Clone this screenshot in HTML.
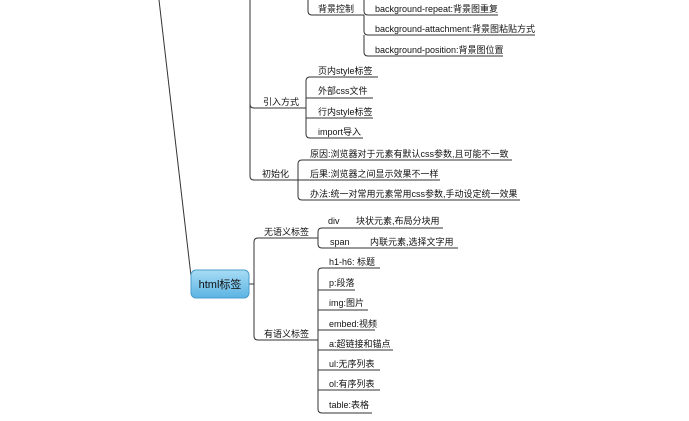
<!DOCTYPE html>
<html><head><meta charset="utf-8"><style>
html,body{margin:0;padding:0;background:#fff;}
svg{display:block;}
text{font-family:"Liberation Sans","Noto Sans CJK SC",sans-serif;font-size:9px;fill:#111;}
</style></head><body>
<svg width="689" height="421" viewBox="0 0 689 421" xmlns="http://www.w3.org/2000/svg">
<defs><linearGradient id="g" x1="0" y1="0" x2="0" y2="1"><stop offset="0" stop-color="#a8dcf5"/><stop offset="1" stop-color="#5bb4e3"/></linearGradient></defs>
<g stroke="#333" stroke-width="1" fill="none">
<line x1="159" y1="0" x2="191" y2="276"/>
<!-- top trunk -->
<path d="M250 0 V104 q0 4 4 4 H306"/>
<path d="M250 104 V176 q0 4 4 4 H298"/>
<!-- 背景控制 -->
<path d="M308 0 V11 q0 4 4 4 H364"/>
<path d="M364 0 V11 q0 4 4 4 H498"/>
<path d="M364 15 V31 q0 4 4 4 H535"/>
<path d="M364 35 V52 q0 4 4 4 H503"/>
<!-- 引入方式 -->
<path d="M306 108 V81 q0 -4 4 -4 H378"/>
<path d="M306 98 H373"/>
<path d="M306 108 V118 H373"/>
<path d="M306 118 V134 q0 4 4 4 H363"/>
<!-- 初始化 -->
<path d="M298 180 V164 q0 -4 4 -4 H512"/>
<path d="M298 180 H440"/>
<path d="M298 180 V196 q0 4 4 4 H520"/>
<!-- bottom -->
<path d="M249 284 H254"/>
<path d="M254 284 V242 q0 -4 4 -4 H318"/>
<path d="M254 284 V336 q0 4 4 4 H318"/>
<path d="M318 238 V232 q0 -4 4 -4 H443"/>
<path d="M318 238 V244 q0 4 4 4 H458"/>
<path d="M318 340 V272 q0 -4 4 -4 H380"/>
<path d="M318 290 H355"/>
<path d="M318 310 H368"/>
<path d="M318 330 H375"/>
<path d="M318 350 H393"/>
<path d="M318 370 H380"/>
<path d="M318 390 H380"/>
<path d="M318 340 V409 q0 4 4 4 H372"/>
</g>
<rect x="191" y="270" width="58" height="28" rx="5" fill="url(#g)" stroke="#4a9ccc"/>
<text x="220" y="288" text-anchor="middle" style="font-size:11px">html标签</text>
<text x="318" y="12">背景控制</text>
<text x="375" y="12">background-repeat:背景图重复</text>
<text x="375" y="32">background-attachment:背景图粘贴方式</text>
<text x="375" y="53">background-position:背景图位置</text>
<text x="318" y="74">页内style标签</text>
<text x="318" y="94">外部css文件</text>
<text x="318" y="115">行内style标签</text>
<text x="318" y="135">import导入</text>
<text x="263" y="105">引入方式</text>
<text x="310" y="157">原因:浏览器对于元素有默认css参数,且可能不一致</text>
<text x="310" y="177">后果:浏览器之间显示效果不一样</text>
<text x="310" y="197">办法:统一对常用元素常用css参数,手动设定统一效果</text>
<text x="262" y="177">初始化</text>
<text x="264" y="235">无语义标签</text>
<text x="328" y="224">div</text>
<text x="356" y="224">块状元素,布局分块用</text>
<text x="330" y="245">span</text>
<text x="370" y="245">内联元素,选择文字用</text>
<text x="264" y="337">有语义标签</text>
<text x="329" y="265">h1-h6: 标题</text>
<text x="329" y="286">p:段落</text>
<text x="329" y="306">img:图片</text>
<text x="329" y="327">embed:视频</text>
<text x="329" y="347">a:超链接和锚点</text>
<text x="329" y="367">ul:无序列表</text>
<text x="329" y="387">ol:有序列表</text>
<text x="329" y="408">table:表格</text>
</svg>
</body></html>
